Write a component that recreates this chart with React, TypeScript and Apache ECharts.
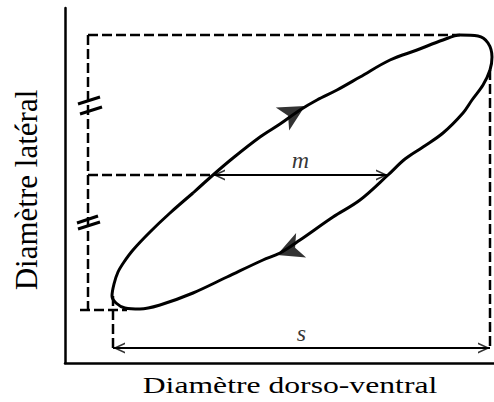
import React, { useEffect, useRef } from "react";
import * as echarts from "echarts";

// Loop trace: lateral vs dorso-ventral diameter (arbitrary units)
const loopX = [128, 148, 168, 195, 215, 235, 252, 272, 295, 325, 352, 378, 395, 413, 423, 427, 425, 418, 407, 398, 378, 358, 340, 323, 295, 268, 235, 215, 198, 162, 128, 95, 75, 60, 51, 47, 49, 53, 59, 68, 85, 105, 128];
const loopY = [170, 188, 205, 226, 239, 253, 263, 273, 286, 303, 313, 323, 328, 327, 320, 306, 293, 278, 263, 250, 230, 216, 204, 188, 163, 146, 123, 110, 103, 86, 70, 58, 54, 55, 60, 67, 79, 91, 101, 113, 131, 150, 170];

// Dashed guide segments [x1, y1, x2, y2]
const guideSegments = [
  [23, 328, 395, 328],
  [23, 328, 23, 53],
  [15, 53, 62, 53],
  [23, 188, 148, 188],
  [48, 67, 48, 15],
  [425, 293, 425, 15],
];

// Equal-length tick marks (double slashes) [x1, y1, x2, y2]
const slashSegments = [
  [13, 259, 35, 266],
  [15, 249, 37, 256],
  [12, 140, 33, 147],
  [13, 134, 35, 141],
];

// Measurement arrows: name, from, to
const measureNames = ["m", "s"];
const measureFrom = [[148, 188], [48, 15]];
const measureTo = [[323, 188], [425, 15]];

// Direction arrowheads on the loop: centre and heading (degrees, counter-clockwise from +x)
const dirCenters = [[240, 257], [212, 108]];
const dirHeadings = [30, 202];

const xTitle = "Diamètre dorso-ventral";
const yTitle = "Diamètre latéral";

const FONT = '"Liberation Serif", "Times New Roman", serif';
const CHEVRON = "path://M0,12 L5,0 L10,12 L8.4,12 L5,3.8 L1.6,12 Z";
const HEAD = 12;

export default function App() {
  const ref = useRef<HTMLDivElement>(null);

  useEffect(() => {
    if (!ref.current) return;
    const chart = echarts.init(ref.current, undefined, { renderer: "svg" });

    const guideSeries = guideSegments.map((s) => ({
      type: "line",
      data: [[s[0], s[1]], [s[2], s[3]]],
      showSymbol: false,
      silent: true,
      lineStyle: { color: "#000", width: 2.5, type: [10, 4] },
      z: 2,
    }));

    const slashSeries = slashSegments.map((s) => ({
      type: "line",
      data: [[s[0], s[1]], [s[2], s[3]]],
      showSymbol: false,
      silent: true,
      lineStyle: { color: "#000", width: 3 },
      z: 3,
    }));

    const measureSeries = measureNames.map((n, i) => ({
      type: "line",
      data: [measureFrom[i], measureTo[i]],
      showSymbol: false,
      silent: true,
      lineStyle: { color: "#000", width: 2 },
      z: 3,
    }));

    const labelData = measureNames.map((n, i) => ({
      name: n,
      value: [
        (measureFrom[i][0] + measureTo[i][0]) / 2,
        (measureFrom[i][1] + measureTo[i][1]) / 2,
      ],
    }));

    // arrowheads at both ends of the measurement lines, tip on the end point
    const chevronData: any[] = [];
    measureFrom.forEach((f, i) => {
      const t = measureTo[i];
      const dx = t[0] - f[0];
      const dy = t[1] - f[1];
      const len = Math.hypot(dx, dy);
      const ux = dx / len;
      const uy = dy / len;
      const ang = (Math.atan2(uy, ux) * 180) / Math.PI;
      chevronData.push({
        value: [f[0] + (ux * HEAD) / 2, f[1] + (uy * HEAD) / 2],
        symbolRotate: ang + 180 - 90,
      });
      chevronData.push({
        value: [t[0] - (ux * HEAD) / 2, t[1] - (uy * HEAD) / 2],
        symbolRotate: ang - 90,
      });
    });

    const option = {
      animation: false,
      backgroundColor: "#fff",
      grid: { left: 65, right: 0, top: 8, bottom: 39 },
      xAxis: {
        type: "value",
        min: 0,
        max: 429,
        axisLine: { show: true, lineStyle: { color: "#000", width: 2.5 } },
        axisTick: { show: false },
        axisLabel: { show: false },
        splitLine: { show: false },
      },
      yAxis: {
        type: "value",
        min: 0,
        max: 355,
        axisLine: { show: true, lineStyle: { color: "#000", width: 2.5 } },
        axisTick: { show: false },
        axisLabel: { show: false },
        splitLine: { show: false },
      },
      graphic: [
        {
          type: "text",
          x: 290,
          y: 385,
          scaleX: 1.32,
          style: {
            text: xTitle,
            font: `24px ${FONT}`,
            fill: "#000",
            align: "center",
            verticalAlign: "middle",
          },
        },
        {
          type: "text",
          x: 26,
          y: 190,
          rotation: Math.PI / 2,
          style: {
            text: yTitle,
            font: `31px ${FONT}`,
            fill: "#000",
            align: "center",
            verticalAlign: "middle",
          },
        },
      ],
      series: [
        {
          type: "line",
          data: loopX.map((x, i) => [x, loopY[i]]),
          smooth: 0.35,
          showSymbol: false,
          silent: true,
          lineStyle: { color: "#000", width: 3 },
          z: 4,
        },
        {
          type: "scatter",
          silent: true,
          symbol: "arrow",
          symbolSize: [20, 26],
          itemStyle: { color: "#000" },
          z: 5,
          data: dirCenters.map((c, i) => ({
            value: c,
            symbolRotate: dirHeadings[i] - 90,
          })),
        },
        {
          type: "scatter",
          silent: true,
          symbol: CHEVRON,
          symbolSize: [11, HEAD],
          itemStyle: { color: "#000" },
          z: 5,
          data: chevronData,
        },
        {
          type: "scatter",
          silent: true,
          symbol: "circle",
          symbolSize: 0,
          z: 6,
          label: {
            show: true,
            position: "top",
            distance: 3,
            formatter: "{b}",
            color: "#000",
            fontFamily: FONT,
            fontStyle: "italic",
            fontSize: 24,
          },
          data: labelData,
        },
        ...measureSeries,
        ...guideSeries,
        ...slashSeries,
      ],
    };

    chart.setOption(option as any);
    return () => chart.dispose();
  }, []);

  return (
    <div
      ref={ref}
      style={{ position: "absolute", left: 0, top: 0, width: 494, height: 402, background: "#fff" }}
    />
  );
}
